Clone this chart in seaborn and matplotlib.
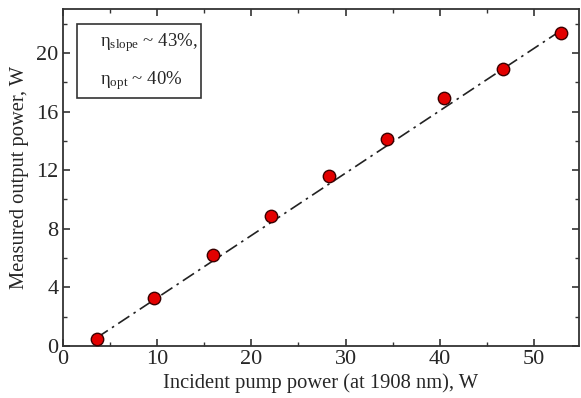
import numpy as np
import pandas as pd
import matplotlib
matplotlib.use("Agg")
import matplotlib.pyplot as plt
import seaborn as sns
from matplotlib.ticker import MultipleLocator
from matplotlib.patches import Rectangle

pump_power = [3.6, 9.7, 15.9, 22.1, 28.2, 34.4, 40.5, 46.7, 52.9]
output_power = [0.45, 3.3, 6.2, 8.9, 11.6, 14.1, 16.9, 18.9, 21.4]
fit_x = [3.6, 53.0]
fit_y = [0.55, 21.6]
x_ticks = [0, 10, 20, 30, 40, 50]
y_ticks = [0, 4, 8, 12, 16, 20]

sns.set_style("ticks")
plt.rcParams['font.family'] = ['Liberation Serif', 'DejaVu Serif']
plt.rcParams['mathtext.fontset'] = 'stix'

fig = plt.figure(figsize=(5.81, 3.98), dpi=100)
ax = fig.add_axes([0.108, 0.131, 0.889, 0.846])

df = pd.DataFrame({"x": pump_power, "y": output_power})
fit = pd.DataFrame({"x": fit_x, "y": fit_y})

sns.lineplot(data=fit, x="x", y="y", ax=ax, color="#222222", lw=1.2,
             linestyle=(0, (8, 3, 1.5, 3)), zorder=2)
sns.scatterplot(data=df, x="x", y="y", ax=ax, s=80, color="#e30000",
                edgecolor="#3a0000", linewidth=1.0, zorder=3)

ax.set_xlim(0, 54.8)
ax.set_ylim(0, 23)
ax.set_xticks(x_ticks)
ax.set_yticks(y_ticks)
ax.xaxis.set_minor_locator(MultipleLocator(5))
ax.yaxis.set_minor_locator(MultipleLocator(2))
ax.tick_params(which='both', direction='in', top=True, right=True,
               labelsize=16, color="#333333")
ax.tick_params(which='major', length=5, width=1.2, pad=3)
ax.tick_params(which='minor', length=3, width=1.0)
for sp in ax.spines.values():
    sp.set_linewidth(1.3)
    sp.set_color("#333333")

ax.set_xlabel("Incident pump power (at 1908 nm), W", fontsize=14.8, labelpad=3)
ax.set_ylabel("Measured output power, W", fontsize=14.8, labelpad=5)

ax.text(0.072, 0.935, r"$\mathregular{\eta_{slope}}$ ~ 43%,", transform=ax.transAxes,
        fontsize=13.5, va='top', ha='left')
ax.text(0.072, 0.823, r"$\mathregular{\eta_{opt}}$ ~ 40%", transform=ax.transAxes,
        fontsize=13.5, va='top', ha='left')
ax.add_patch(Rectangle((0.028, 0.735), 0.24, 0.22, transform=ax.transAxes,
                       fill=False, edgecolor="#333333", lw=1.2))

fig.savefig("out.png", dpi=100)
